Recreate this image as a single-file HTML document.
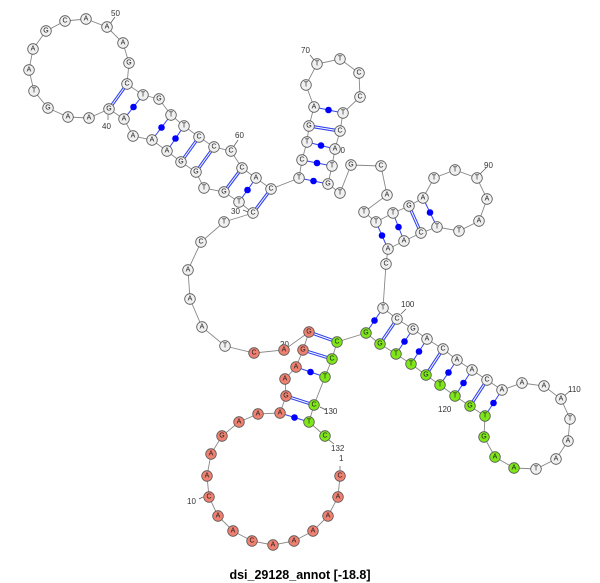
<!DOCTYPE html>
<html><head><meta charset="utf-8"><style>
html,body{margin:0;padding:0;background:#fff}
svg{display:block}
.n circle{stroke:#555;stroke-width:0.8}
.n text{font:7px "Liberation Sans",sans-serif;fill:#222;text-anchor:middle;dominant-baseline:central}
.w circle{fill:#f0f0f0}.r circle{fill:#f08070}.g circle{fill:#7ee619}
.lb{font:8px "Liberation Sans",sans-serif;fill:#333}
.bb{fill:none;stroke:#888;stroke-width:0.9}
.ds{stroke:#3344ee;stroke-width:3.2}.di{stroke:#fff;stroke-width:1}
.sl{stroke:#3344ee;stroke-width:1}
</style></head><body>
<svg width="600" height="583" viewBox="0 0 600 583" xmlns="http://www.w3.org/2000/svg">
<polyline class="bb" points="340,476 338,497 328,516 313,531 294,541 273,545 252,541 233,531 218,516 209,497 207,476 211,454 222,436 239,422 258,414 280,413 286,396 285,379 296,367 303,350 309,332 284,350 254,353 225,346 202,327 190,299 188,270 201,242 224,222 253,213 239,202 224,192 204,188 196,172 181,162 167,151 152,140 133,136 124,119 109,109 89,118 68,117 48,108 34,91 29,70 33,49 46,31 65,21 86,19 107,27 123,43 129,63 127,84 143,95 159,99 171,115 184,126 199,137 214,147 231,151 242,168 256,178 271,189 299,178 302,160 307,142 309,126 314,107 306,85 317,64 340,59 359,73 360,97 343,113 340,131 335,149 332,166 328,184 340,193 351,165 381,166 387,195 364,212 376,222 393,213 409,206 423,198 434,178 455,170 477,178 487,199 479,221 459,231 437,227 421,233 404,241 388,249 386,264 383,308 397,319 413,329 427,339 443,349 457,360 472,370 487,380 502,390 522,383 544,386 561,399 570,419 568,441 556,459 536,469 514,468 495,457 484,437 485,416 470,406 455,396 440,385 426,375 411,364 396,354 380,344 366,333 337,342 332,359 325,377 314,405 309,422 325,436"/>
<!-- double (GC) pairs -->
<g>
<line class="ds" x1="253" y1="213" x2="271" y2="189"/><line class="di" x1="253" y1="213" x2="271" y2="189"/>
<line class="ds" x1="224" y1="192" x2="242" y2="168"/><line class="di" x1="224" y1="192" x2="242" y2="168"/>
<line class="ds" x1="196" y1="172" x2="214" y2="147"/><line class="di" x1="196" y1="172" x2="214" y2="147"/>
<line class="ds" x1="181" y1="162" x2="199" y2="137"/><line class="di" x1="181" y1="162" x2="199" y2="137"/>
<line class="ds" x1="109" y1="109" x2="127" y2="84"/><line class="di" x1="109" y1="109" x2="127" y2="84"/>
<line class="ds" x1="309" y1="126" x2="340" y2="131"/><line class="di" x1="309" y1="126" x2="340" y2="131"/>
<line class="ds" x1="409" y1="206" x2="421" y2="233"/><line class="di" x1="409" y1="206" x2="421" y2="233"/>
<line class="ds" x1="397" y1="319" x2="380" y2="344"/><line class="di" x1="397" y1="319" x2="380" y2="344"/>
<line class="ds" x1="443" y1="349" x2="426" y2="375"/><line class="di" x1="443" y1="349" x2="426" y2="375"/>
<line class="ds" x1="487" y1="380" x2="470" y2="406"/><line class="di" x1="487" y1="380" x2="470" y2="406"/>
<line class="ds" x1="309" y1="332" x2="337" y2="342"/><line class="di" x1="309" y1="332" x2="337" y2="342"/>
<line class="ds" x1="303" y1="350" x2="332" y2="359"/><line class="di" x1="303" y1="350" x2="332" y2="359"/>
<line class="ds" x1="286" y1="396" x2="314" y2="405"/><line class="di" x1="286" y1="396" x2="314" y2="405"/>
</g>
<!-- single (AU/GU) pairs with dot -->
<g fill="#0000ff">
<line class="sl" x1="239" y1="202" x2="256" y2="178"/><circle cx="247.5" cy="190" r="3.3"/>
<line class="sl" x1="167" y1="151" x2="184" y2="126"/><circle cx="175.5" cy="138.5" r="3.3"/>
<line class="sl" x1="152" y1="140" x2="171" y2="115"/><circle cx="161.5" cy="127.5" r="3.3"/>
<line class="sl" x1="124" y1="119" x2="143" y2="95"/><circle cx="133.5" cy="107" r="3.3"/>
<line class="sl" x1="314" y1="107" x2="343" y2="113"/><circle cx="328.5" cy="110" r="3.3"/>
<line class="sl" x1="307" y1="142" x2="335" y2="149"/><circle cx="321" cy="145.5" r="3.3"/>
<line class="sl" x1="302" y1="160" x2="332" y2="166"/><circle cx="317" cy="163" r="3.3"/>
<line class="sl" x1="299" y1="178" x2="328" y2="184"/><circle cx="313.5" cy="181" r="3.3"/>
<line class="sl" x1="376" y1="222" x2="388" y2="249"/><circle cx="382" cy="235.5" r="3.3"/>
<line class="sl" x1="393" y1="213" x2="404" y2="241"/><circle cx="398.5" cy="227" r="3.3"/>
<line class="sl" x1="423" y1="198" x2="437" y2="227"/><circle cx="430" cy="212.5" r="3.3"/>
<line class="sl" x1="383" y1="308" x2="366" y2="333"/><circle cx="374.5" cy="320.5" r="3.3"/>
<line class="sl" x1="413" y1="329" x2="396" y2="354"/><circle cx="404.5" cy="341.5" r="3.3"/>
<line class="sl" x1="427" y1="339" x2="411" y2="364"/><circle cx="419" cy="351.5" r="3.3"/>
<line class="sl" x1="457" y1="360" x2="440" y2="385"/><circle cx="448.5" cy="372.5" r="3.3"/>
<line class="sl" x1="472" y1="370" x2="455" y2="396"/><circle cx="463.5" cy="383" r="3.3"/>
<line class="sl" x1="502" y1="390" x2="485" y2="416"/><circle cx="493.5" cy="403" r="3.3"/>
<line class="sl" x1="296" y1="367" x2="325" y2="377"/><circle cx="310.5" cy="372" r="3.3"/>
<line class="sl" x1="280" y1="413" x2="309" y2="422"/><circle cx="294.5" cy="417.5" r="3.3"/>
</g>
<!-- label ticks -->
<g stroke="#555" stroke-width="0.7">
<line x1="110" y1="24" x2="115" y2="17"/><line x1="108" y1="115" x2="108" y2="120"/>
<line x1="234" y1="146" x2="238" y2="140"/><line x1="248" y1="212" x2="243" y2="210"/>
<line x1="314" y1="60" x2="310" y2="55"/><line x1="480" y1="174" x2="486" y2="168"/>
<line x1="401" y1="314" x2="406" y2="309"/><line x1="564" y1="396" x2="570" y2="391"/>
<line x1="320" y1="407" x2="326" y2="410"/><line x1="329" y1="440" x2="334" y2="444"/>
<line x1="340" y1="470" x2="340" y2="466"/><line x1="203" y1="497" x2="199" y2="499"/>
</g>
<g class="lb">
<text x="111" y="16">50</text><text x="102" y="129">40</text><text x="235" y="138">60</text>
<text x="231" y="214">30</text><text x="301" y="53">70</text><text x="336" y="153">80</text>
<text x="484" y="168">90</text><text x="401" y="307">100</text><text x="568" y="392">110</text>
<text x="438" y="412">120</text><text x="324" y="414">130</text><text x="331" y="451">132</text>
<text x="339" y="461">1</text><text x="187" y="504">10</text><text x="280" y="347">20</text>
</g>
<g class="n r">
<g><circle cx="340" cy="476" r="5.3"/><text x="340" y="476">C</text></g>
<g><circle cx="338" cy="497" r="5.3"/><text x="338" y="497">A</text></g>
<g><circle cx="328" cy="516" r="5.3"/><text x="328" y="516">A</text></g>
<g><circle cx="313" cy="531" r="5.3"/><text x="313" y="531">A</text></g>
<g><circle cx="294" cy="541" r="5.3"/><text x="294" y="541">A</text></g>
<g><circle cx="273" cy="545" r="5.3"/><text x="273" y="545">A</text></g>
<g><circle cx="252" cy="541" r="5.3"/><text x="252" y="541">C</text></g>
<g><circle cx="233" cy="531" r="5.3"/><text x="233" y="531">A</text></g>
<g><circle cx="218" cy="516" r="5.3"/><text x="218" y="516">A</text></g>
<g><circle cx="209" cy="497" r="5.3"/><text x="209" y="497">C</text></g>
<g><circle cx="207" cy="476" r="5.3"/><text x="207" y="476">A</text></g>
<g><circle cx="211" cy="454" r="5.3"/><text x="211" y="454">A</text></g>
<g><circle cx="222" cy="436" r="5.3"/><text x="222" y="436">G</text></g>
<g><circle cx="239" cy="422" r="5.3"/><text x="239" y="422">A</text></g>
<g><circle cx="258" cy="414" r="5.3"/><text x="258" y="414">A</text></g>
<g><circle cx="280" cy="413" r="5.3"/><text x="280" y="413">A</text></g>
<g><circle cx="286" cy="396" r="5.3"/><text x="286" y="396">G</text></g>
<g><circle cx="285" cy="379" r="5.3"/><text x="285" y="379">A</text></g>
<g><circle cx="296" cy="367" r="5.3"/><text x="296" y="367">A</text></g>
<g><circle cx="303" cy="350" r="5.3"/><text x="303" y="350">G</text></g>
<g><circle cx="309" cy="332" r="5.3"/><text x="309" y="332">G</text></g>
<g><circle cx="284" cy="350" r="5.3"/><text x="284" y="350">A</text></g>
<g><circle cx="254" cy="353" r="5.3"/><text x="254" y="353">C</text></g>
</g>
<g class="n w">
<g><circle cx="225" cy="346" r="5.3"/><text x="225" y="346">T</text></g>
<g><circle cx="202" cy="327" r="5.3"/><text x="202" y="327">A</text></g>
<g><circle cx="190" cy="299" r="5.3"/><text x="190" y="299">A</text></g>
<g><circle cx="188" cy="270" r="5.3"/><text x="188" y="270">A</text></g>
<g><circle cx="201" cy="242" r="5.3"/><text x="201" y="242">C</text></g>
<g><circle cx="224" cy="222" r="5.3"/><text x="224" y="222">T</text></g>
<g><circle cx="253" cy="213" r="5.3"/><text x="253" y="213">C</text></g>
<g><circle cx="239" cy="202" r="5.3"/><text x="239" y="202">T</text></g>
<g><circle cx="224" cy="192" r="5.3"/><text x="224" y="192">G</text></g>
<g><circle cx="204" cy="188" r="5.3"/><text x="204" y="188">T</text></g>
<g><circle cx="196" cy="172" r="5.3"/><text x="196" y="172">G</text></g>
<g><circle cx="181" cy="162" r="5.3"/><text x="181" y="162">G</text></g>
<g><circle cx="167" cy="151" r="5.3"/><text x="167" y="151">A</text></g>
<g><circle cx="152" cy="140" r="5.3"/><text x="152" y="140">A</text></g>
<g><circle cx="133" cy="136" r="5.3"/><text x="133" y="136">A</text></g>
<g><circle cx="124" cy="119" r="5.3"/><text x="124" y="119">A</text></g>
<g><circle cx="109" cy="109" r="5.3"/><text x="109" y="109">G</text></g>
<g><circle cx="89" cy="118" r="5.3"/><text x="89" y="118">A</text></g>
<g><circle cx="68" cy="117" r="5.3"/><text x="68" y="117">A</text></g>
<g><circle cx="48" cy="108" r="5.3"/><text x="48" y="108">G</text></g>
<g><circle cx="34" cy="91" r="5.3"/><text x="34" y="91">T</text></g>
<g><circle cx="29" cy="70" r="5.3"/><text x="29" y="70">A</text></g>
<g><circle cx="33" cy="49" r="5.3"/><text x="33" y="49">A</text></g>
<g><circle cx="46" cy="31" r="5.3"/><text x="46" y="31">G</text></g>
<g><circle cx="65" cy="21" r="5.3"/><text x="65" y="21">C</text></g>
<g><circle cx="86" cy="19" r="5.3"/><text x="86" y="19">A</text></g>
<g><circle cx="107" cy="27" r="5.3"/><text x="107" y="27">A</text></g>
<g><circle cx="123" cy="43" r="5.3"/><text x="123" y="43">A</text></g>
<g><circle cx="129" cy="63" r="5.3"/><text x="129" y="63">G</text></g>
<g><circle cx="127" cy="84" r="5.3"/><text x="127" y="84">C</text></g>
<g><circle cx="143" cy="95" r="5.3"/><text x="143" y="95">T</text></g>
<g><circle cx="159" cy="99" r="5.3"/><text x="159" y="99">G</text></g>
<g><circle cx="171" cy="115" r="5.3"/><text x="171" y="115">T</text></g>
<g><circle cx="184" cy="126" r="5.3"/><text x="184" y="126">T</text></g>
<g><circle cx="199" cy="137" r="5.3"/><text x="199" y="137">C</text></g>
<g><circle cx="214" cy="147" r="5.3"/><text x="214" y="147">C</text></g>
<g><circle cx="231" cy="151" r="5.3"/><text x="231" y="151">C</text></g>
<g><circle cx="242" cy="168" r="5.3"/><text x="242" y="168">C</text></g>
<g><circle cx="256" cy="178" r="5.3"/><text x="256" y="178">A</text></g>
<g><circle cx="271" cy="189" r="5.3"/><text x="271" y="189">C</text></g>
<g><circle cx="299" cy="178" r="5.3"/><text x="299" y="178">T</text></g>
<g><circle cx="302" cy="160" r="5.3"/><text x="302" y="160">C</text></g>
<g><circle cx="307" cy="142" r="5.3"/><text x="307" y="142">T</text></g>
<g><circle cx="309" cy="126" r="5.3"/><text x="309" y="126">G</text></g>
<g><circle cx="314" cy="107" r="5.3"/><text x="314" y="107">A</text></g>
<g><circle cx="306" cy="85" r="5.3"/><text x="306" y="85">T</text></g>
<g><circle cx="317" cy="64" r="5.3"/><text x="317" y="64">T</text></g>
<g><circle cx="340" cy="59" r="5.3"/><text x="340" y="59">T</text></g>
<g><circle cx="359" cy="73" r="5.3"/><text x="359" y="73">C</text></g>
<g><circle cx="360" cy="97" r="5.3"/><text x="360" y="97">C</text></g>
<g><circle cx="343" cy="113" r="5.3"/><text x="343" y="113">T</text></g>
<g><circle cx="340" cy="131" r="5.3"/><text x="340" y="131">C</text></g>
<g><circle cx="335" cy="149" r="5.3"/><text x="335" y="149">A</text></g>
<g><circle cx="332" cy="166" r="5.3"/><text x="332" y="166">T</text></g>
<g><circle cx="328" cy="184" r="5.3"/><text x="328" y="184">G</text></g>
<g><circle cx="340" cy="193" r="5.3"/><text x="340" y="193">T</text></g>
<g><circle cx="351" cy="165" r="5.3"/><text x="351" y="165">G</text></g>
<g><circle cx="381" cy="166" r="5.3"/><text x="381" y="166">C</text></g>
<g><circle cx="387" cy="195" r="5.3"/><text x="387" y="195">A</text></g>
<g><circle cx="364" cy="212" r="5.3"/><text x="364" y="212">T</text></g>
<g><circle cx="376" cy="222" r="5.3"/><text x="376" y="222">T</text></g>
<g><circle cx="393" cy="213" r="5.3"/><text x="393" y="213">T</text></g>
<g><circle cx="409" cy="206" r="5.3"/><text x="409" y="206">G</text></g>
<g><circle cx="423" cy="198" r="5.3"/><text x="423" y="198">A</text></g>
<g><circle cx="434" cy="178" r="5.3"/><text x="434" y="178">T</text></g>
<g><circle cx="455" cy="170" r="5.3"/><text x="455" y="170">T</text></g>
<g><circle cx="477" cy="178" r="5.3"/><text x="477" y="178">T</text></g>
<g><circle cx="487" cy="199" r="5.3"/><text x="487" y="199">A</text></g>
<g><circle cx="479" cy="221" r="5.3"/><text x="479" y="221">A</text></g>
<g><circle cx="459" cy="231" r="5.3"/><text x="459" y="231">T</text></g>
<g><circle cx="437" cy="227" r="5.3"/><text x="437" y="227">T</text></g>
<g><circle cx="421" cy="233" r="5.3"/><text x="421" y="233">C</text></g>
<g><circle cx="404" cy="241" r="5.3"/><text x="404" y="241">A</text></g>
<g><circle cx="388" cy="249" r="5.3"/><text x="388" y="249">A</text></g>
<g><circle cx="386" cy="264" r="5.3"/><text x="386" y="264">C</text></g>
<g><circle cx="383" cy="308" r="5.3"/><text x="383" y="308">T</text></g>
<g><circle cx="397" cy="319" r="5.3"/><text x="397" y="319">C</text></g>
<g><circle cx="413" cy="329" r="5.3"/><text x="413" y="329">G</text></g>
<g><circle cx="427" cy="339" r="5.3"/><text x="427" y="339">A</text></g>
<g><circle cx="443" cy="349" r="5.3"/><text x="443" y="349">C</text></g>
<g><circle cx="457" cy="360" r="5.3"/><text x="457" y="360">A</text></g>
<g><circle cx="472" cy="370" r="5.3"/><text x="472" y="370">A</text></g>
<g><circle cx="487" cy="380" r="5.3"/><text x="487" y="380">C</text></g>
<g><circle cx="502" cy="390" r="5.3"/><text x="502" y="390">A</text></g>
<g><circle cx="522" cy="383" r="5.3"/><text x="522" y="383">A</text></g>
<g><circle cx="544" cy="386" r="5.3"/><text x="544" y="386">A</text></g>
<g><circle cx="561" cy="399" r="5.3"/><text x="561" y="399">A</text></g>
<g><circle cx="570" cy="419" r="5.3"/><text x="570" y="419">T</text></g>
<g><circle cx="568" cy="441" r="5.3"/><text x="568" y="441">A</text></g>
<g><circle cx="556" cy="459" r="5.3"/><text x="556" y="459">A</text></g>
<g><circle cx="536" cy="469" r="5.3"/><text x="536" y="469">T</text></g>
</g>
<g class="n g">
<g><circle cx="514" cy="468" r="5.3"/><text x="514" y="468">A</text></g>
<g><circle cx="495" cy="457" r="5.3"/><text x="495" y="457">A</text></g>
<g><circle cx="484" cy="437" r="5.3"/><text x="484" y="437">G</text></g>
<g><circle cx="485" cy="416" r="5.3"/><text x="485" y="416">T</text></g>
<g><circle cx="470" cy="406" r="5.3"/><text x="470" y="406">G</text></g>
<g><circle cx="455" cy="396" r="5.3"/><text x="455" y="396">T</text></g>
<g><circle cx="440" cy="385" r="5.3"/><text x="440" y="385">T</text></g>
<g><circle cx="426" cy="375" r="5.3"/><text x="426" y="375">G</text></g>
<g><circle cx="411" cy="364" r="5.3"/><text x="411" y="364">T</text></g>
<g><circle cx="396" cy="354" r="5.3"/><text x="396" y="354">T</text></g>
<g><circle cx="380" cy="344" r="5.3"/><text x="380" y="344">G</text></g>
<g><circle cx="366" cy="333" r="5.3"/><text x="366" y="333">G</text></g>
<g><circle cx="337" cy="342" r="5.3"/><text x="337" y="342">C</text></g>
<g><circle cx="332" cy="359" r="5.3"/><text x="332" y="359">C</text></g>
<g><circle cx="325" cy="377" r="5.3"/><text x="325" y="377">T</text></g>
<g><circle cx="314" cy="405" r="5.3"/><text x="314" y="405">C</text></g>
<g><circle cx="309" cy="422" r="5.3"/><text x="309" y="422">T</text></g>
<g><circle cx="325" cy="436" r="5.3"/><text x="325" y="436">C</text></g>
</g>
<text x="300" y="579" text-anchor="middle" style="font:bold 12.5px 'Liberation Sans',sans-serif;fill:#000">dsi_29128_annot [-18.8]</text>
</svg>
</body></html>
